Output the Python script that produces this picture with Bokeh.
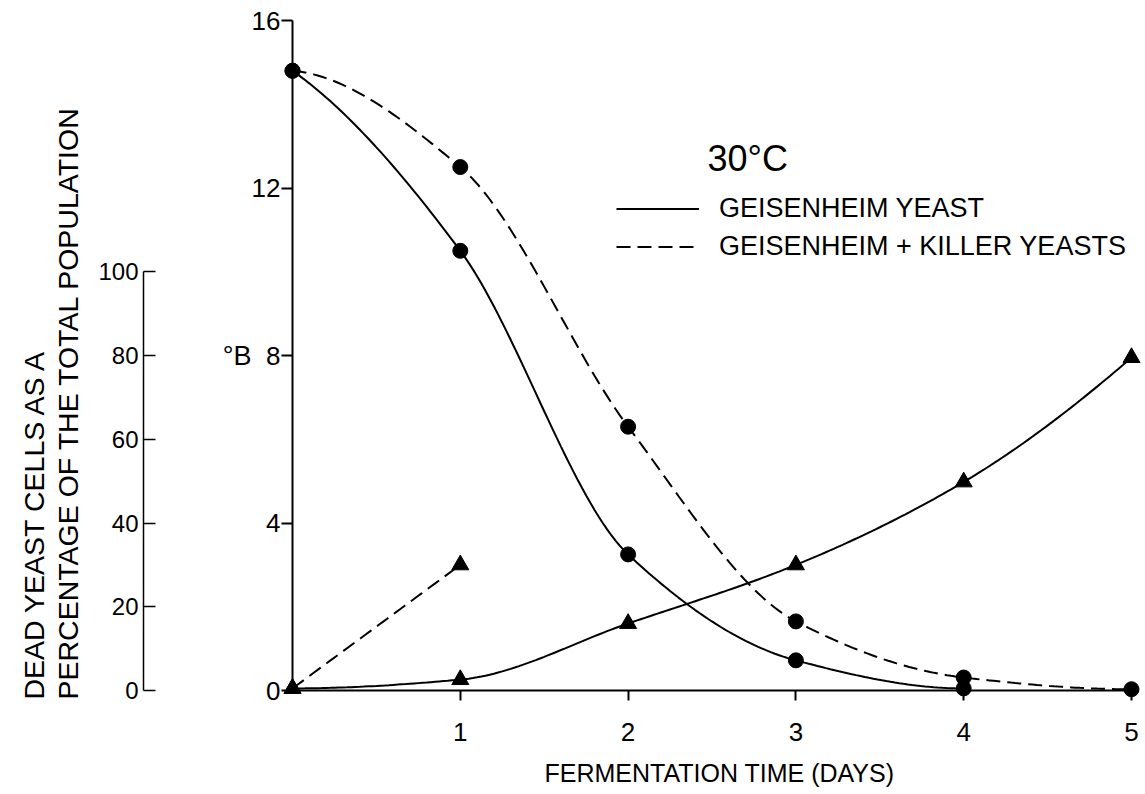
import numpy as np
from bokeh.plotting import figure
from bokeh.models import (Range1d, LinearAxis, FixedTicker, Legend, LegendItem, Label)
from bokeh.embed import file_html
from bokeh.resources import INLINE

FONT = "Liberation Sans"

# ---------------- data ----------------
days_brix_g = [0, 1, 2, 3, 4]
brix_g = [14.8, 10.5, 3.25, 0.72, 0.05]            # Geisenheim yeast, °B

days_brix_gk = [0, 1, 2, 3, 4, 5]
brix_gk = [14.8, 12.5, 6.3, 1.65, 0.31, 0.03]      # Geisenheim + killer, °B

days_dead_g = [0, 1, 2, 3, 4, 5]
dead_g = [0.5, 2.6, 16.0, 30.0, 49.8, 79.5]        # dead cells %, Geisenheim

days_dead_gk = [0, 1]
dead_gk = [0.5, 30.0]                              # dead cells %, Geisenheim + killer

x_ticks = [1, 2, 3, 4, 5]
brix_ticks = [0, 4, 8, 12, 16]
pct_ticks = [0, 20, 40, 60, 80, 100]

x_label = "FERMENTATION TIME (DAYS)"
legend_labels = ["GEISENHEIM YEAST", "GEISENHEIM + KILLER YEASTS"]
ylabel_lines = ["DEAD YEAST CELLS AS A", "PERCENTAGE OF THE TOTAL POPULATION"]
temp_label = "30°C"
brix_label = "°B"


def smooth(xs, ys, n=40):
    """Monotone cubic (PCHIP) curve through the data points, for drawing."""
    x = np.asarray(xs, float)
    y = np.asarray(ys, float)
    h = np.diff(x)
    d = np.diff(y) / h
    m = np.zeros_like(y)
    if len(x) == 2:
        m[:] = d[0]
    else:
        for i in range(1, len(x) - 1):
            if d[i - 1] * d[i] <= 0:
                m[i] = 0.0
            else:
                w1 = 2 * h[i] + h[i - 1]
                w2 = h[i] + 2 * h[i - 1]
                m[i] = (w1 + w2) / (w1 / d[i - 1] + w2 / d[i])

        def edge(h0, h1, d0, d1):
            mm = ((2 * h0 + h1) * d0 - h0 * d1) / (h0 + h1)
            if np.sign(mm) != np.sign(d0):
                mm = 0.0
            elif np.sign(d0) != np.sign(d1) and abs(mm) > abs(3 * d0):
                mm = 3 * d0
            return mm

        m[0] = edge(h[0], h[1], d[0], d[1])
        m[-1] = edge(h[-1], h[-2], d[-1], d[-2])
    X, Y = [], []
    for i in range(len(x) - 1):
        t = np.linspace(0, 1, n, endpoint=(i == len(x) - 2))
        h00 = 2 * t**3 - 3 * t**2 + 1
        h10 = t**3 - 2 * t**2 + t
        h01 = -2 * t**3 + 3 * t**2
        h11 = t**3 - t**2
        X.extend(x[i] + t * h[i])
        Y.extend(h00 * y[i] + h10 * h[i] * m[i] + h01 * y[i + 1] + h11 * h[i] * m[i + 1])
    return X, Y


# ---------------- layout (page pixels) ----------------
W, H = 1143, 790
FL, FT = 1, 1                 # frame (= canvas) top-left on the page
FR, FB = FL + W, FT + H       # frame right / bottom on the page
X0_PX, X5_PX = 293, 1132      # page x of day 0 and day 5
Y0_PX, Y16_PX = 691, 21       # page y of 0 °B and 16 °B
SEC_AXIS_PX = 144             # page x of the percentage axis

ppx = (X5_PX - X0_PX) / 5.0
ppy = (Y0_PX - Y16_PX) / 16.0
x_start = (FL - X0_PX) / ppx
x_end = (FR - X0_PX) / ppx
y_start = -(FB - Y0_PX) / ppy
y_end = (Y0_PX - FT) / ppy
sec_axis_x = (SEC_AXIS_PX - X0_PX) / ppx


def sx(px):
    return px - FL


def sy(py):
    return FB - py


p = figure(width=W, height=H, output_backend="svg", toolbar_location=None,
           x_range=Range1d(x_start, x_end), y_range=Range1d(y_start, y_end),
           min_border_left=0, min_border_right=0, min_border_top=0, min_border_bottom=0)
p.background_fill_color = "white"
p.border_fill_color = "white"
p.outline_line_color = None
p.xgrid.visible = False
p.ygrid.visible = False

p.extra_y_ranges = {"pct": Range1d(y_start * 10, y_end * 10)}

DASH = "14 7"
LW = 2

# curves
xs, ys = smooth(days_brix_g, brix_g)
r_g = p.line(xs, ys, line_color="black", line_width=LW)
xs, ys = smooth(days_brix_gk, brix_gk)
r_gk = p.line(xs, ys, line_color="black", line_width=LW, line_dash=DASH)
xs, ys = smooth(days_dead_g, dead_g)
p.line(xs, ys, line_color="black", line_width=LW, y_range_name="pct")
xs, ys = smooth(days_dead_gk, dead_gk)
p.line(xs, ys, line_color="black", line_width=LW, line_dash=DASH, y_range_name="pct")

# markers
p.scatter(days_brix_g, brix_g, marker="circle", size=15, color="black", level="overlay")
p.scatter(days_brix_gk, brix_gk, marker="circle", size=15, color="black", level="overlay")
p.scatter(days_dead_g, dead_g, marker="triangle", size=17, color="black",
          y_range_name="pct", level="overlay")
p.scatter(days_dead_gk, dead_gk, marker="triangle", size=17, color="black",
          y_range_name="pct", level="overlay")


def style_axis(ax):
    ax.axis_line_color = "black"
    ax.axis_line_width = 2
    ax.major_tick_line_color = "black"
    ax.major_tick_line_width = 2
    ax.minor_tick_line_color = None
    ax.major_label_text_font = FONT
    ax.major_label_text_font_size = "26px"
    ax.major_label_text_color = "black"


xa = p.xaxis[0]
style_axis(xa)
xa.fixed_location = 0
xa.ticker = FixedTicker(ticks=x_ticks)
xa.bounds = (0, 5)
xa.major_tick_in = 0
xa.major_tick_out = 10
xa.major_label_standoff = 22

ya = p.yaxis[0]
style_axis(ya)
ya.fixed_location = 0
ya.ticker = FixedTicker(ticks=brix_ticks)
ya.bounds = (0, 16)
ya.major_tick_in = 0
ya.major_tick_out = 11
ya.major_label_standoff = 1

pa = LinearAxis(y_range_name="pct", ticker=FixedTicker(ticks=pct_ticks), bounds=(0, 100))
style_axis(pa)
pa.fixed_location = sec_axis_x
pa.axis_line_width = 1.5
pa.major_tick_line_width = 1.5
pa.major_tick_in = 12
pa.major_tick_out = 0
pa.major_label_standoff = 5
pa.major_label_text_font_size = "24px"
p.add_layout(pa, "left")

# °B label beside the 8 tick
p.add_layout(Label(x=sx(252), y=sy(356), x_units="screen", y_units="screen", text=brix_label,
                   text_align="right", text_baseline="middle",
                   text_font=FONT, text_font_size="27px", text_color="black"))

# x axis label
p.add_layout(Label(x=sx(720), y=sy(784) + 11, x_units="screen", y_units="screen",
                   text=x_label, text_align="center", text_baseline="alphabetic",
                   text_font=FONT, text_font_size="25px", text_color="black"))

# two-line label of the percentage axis, reading upward
for txt, xpx in zip(ylabel_lines, [34, 68]):
    p.add_layout(Label(x=sx(xpx), y=sy(700), x_units="screen", y_units="screen", text=txt,
                       angle=np.pi / 2, text_align="left", text_baseline="middle",
                       text_font=FONT, text_font_size="28.5px", text_color="black"))

# temperature label
p.add_layout(Label(x=sx(708), y=sy(170) + 11, x_units="screen", y_units="screen",
                   text=temp_label, text_align="left", text_baseline="alphabetic",
                   text_font=FONT, text_font_size="36px", text_color="black"))

legend = Legend(items=[LegendItem(label=legend_labels[0], renderers=[r_g]),
                       LegendItem(label=legend_labels[1], renderers=[r_gk])],
                location=(sx(617), sy(263)), orientation="vertical",
                glyph_width=83, glyph_height=31, label_height=31,
                label_standoff=20, spacing=7, padding=0, margin=0,
                border_line_color=None, background_fill_alpha=0,
                label_text_font=FONT, label_text_font_size="27px",
                label_text_color="black")
p.add_layout(legend)

open("out.html", "w").write(file_html(p, INLINE))
